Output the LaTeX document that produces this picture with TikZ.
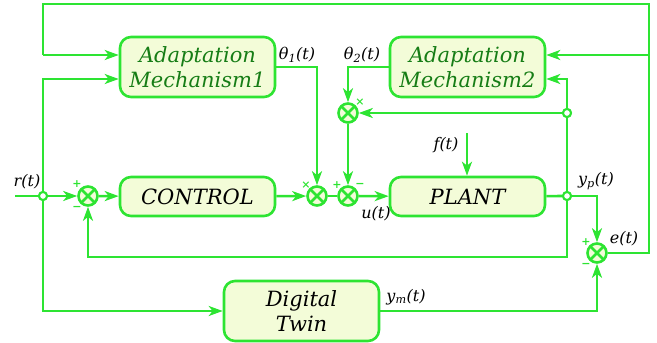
\documentclass[tikz,border=0pt]{standalone}
\usepackage{fontspec}
\setmainfont{DejaVu Serif}
\usetikzlibrary{arrows.meta}
\definecolor{gl}{RGB}{45,228,50}
\definecolor{gf}{RGB}{243,252,216}
\definecolor{amtxt}{RGB}{22,125,22}
\tikzset{
  blk/.style={draw=gl,fill=gf,line width=2.6pt,rounded corners=11pt,minimum width=155pt,inner sep=0pt,align=center,font=\fontsize{21}{25}\selectfont\itshape},
  mult/.style={circle,draw=gl,fill=gf,line width=2.6pt,minimum size=19pt,inner sep=0pt,
    path picture={\draw[gl,line width=2.6pt] (path picture bounding box.north west)--(path picture bounding box.south east) (path picture bounding box.north east)--(path picture bounding box.south west);}},
  jn/.style={circle,draw=gl,fill=white,line width=2pt,minimum size=8pt,inner sep=0pt},
  wire/.style={draw=gl,line width=2.6pt},
  arr/.style={wire,-{Stealth[length=14pt,width=10pt,inset=4pt]}},
  sg/.style={text=gl,font=\fontsize{11}{11}\selectfont\bfseries,inner sep=0pt},
  lbl/.style={font=\fontsize{16}{18}\selectfont\itshape,inner sep=0pt}
}
\begin{document}
\begin{tikzpicture}[x=1pt,y=-1pt]
\useasboundingbox (0,0) rectangle (657,343);
% blocks
\node[blk,minimum height=60pt,text=amtxt] (am1) at (197.5,67) {Adaptation\\Mechanism1};
\node[blk,minimum height=60pt,text=amtxt] (am2) at (467.5,67) {Adaptation\\Mechanism2};
\node[blk,minimum height=39pt] (ctl) at (197.5,196.5) {CONTROL};
\node[blk,minimum height=39pt] (plant) at (467.5,196.5) {PLANT};
\node[blk,minimum height=60pt] (dt) at (301.5,311) {Digital\\Twin};
% sums
\node[mult] (s1) at (88,196) {};
\node[mult] (m1) at (317,196) {};
\node[mult] (s2) at (348,196) {};
\node[mult] (m2) at (348,113) {};
\node[mult] (se) at (597,253) {};
% junctions
\coordinate (rin) at (15,196);
\node[jn] (jr) at (43,196) {};
\node[jn] (jp) at (567,196) {};
\node[jn] (jm) at (567,113) {};
\coordinate (fin) at (467,133);
% signs
\node[sg] at (77,184) {+};
\node[sg] at (77,208) {\textminus};
\node[sg] at (306,185) {×};
\node[sg] at (337,185) {+};
\node[sg] at (360,185) {\textminus};
\node[sg] at (360,102) {×};
\node[sg] at (586,242) {+};
\node[sg] at (586,265) {\textminus};
% labels
\node[lbl] at (27,182) {r(t)};
\node[lbl] at (297,55) {θ\textsubscript{1}(t)};
\node[lbl] at (362,55) {θ\textsubscript{2}(t)};
\node[lbl] at (446,145) {f(t)};
\node[lbl] at (376,214) {u(t)};
\node[lbl] at (596,181) {y\textsubscript{p}(t)};
\node[lbl] at (624,239) {e(t)};
\node[lbl] at (406,297) {y\textsubscript{m}(t)};
% top loop
\draw[wire] (se.east) -- (649,253) -- (649,4) -- (43,4) -- (43,55);
\draw[arr] (43,55) -- (am1.west |- 0,55);
\draw[arr] (649,55) -- (am2.east |- 0,55);
% reference
\draw[wire] (rin) -- (jr);
\draw[arr] (jr) -- (s1);
\draw[arr] (jr) |- (am1.west |- 0,79);
\draw[arr] (jr) |- (dt.west);
% main path
\draw[arr] (s1) -- (ctl);
\draw[arr] (ctl) -- (m1);
\draw[wire] (m1) -- (s2);
\draw[arr] (s2) -- (plant);
\draw[arr] (am1.east |- 0,67) -| (m1);
\draw[arr] (am2.west |- 0,67) -| (m2);
\draw[arr] (m2) -- (s2);
\draw[arr] (jm) -- (m2);
\draw[arr] (jp) |- (am2.east |- 0,79);
\draw[arr] (fin) -- (plant.north -| fin);
% plant output
\draw[wire] (plant) -- (jp);
\draw[arr] (jp) -| (se);
\draw[arr] (jp) |- (88,257) -- (s1);
\draw[arr] (dt.east) -| (se);
% redraw junctions on top
\node[jn] at (43,196) {};
\node[jn] at (567,196) {};
\node[jn] at (567,113) {};
\end{tikzpicture}
\end{document}
